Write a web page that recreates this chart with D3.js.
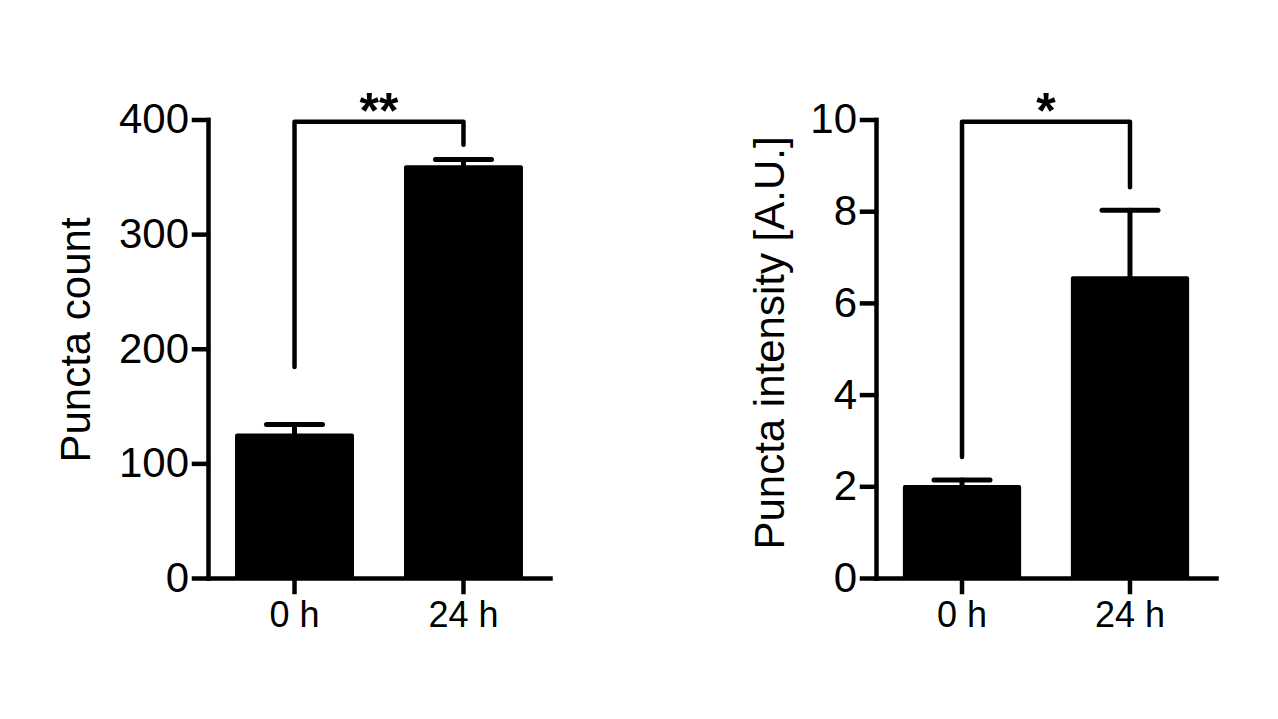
<!DOCTYPE html>
<html>
<head>
<meta charset="utf-8">
<script src="https://cdn.jsdelivr.net/npm/d3@7"></script>
<style>
  html, body { margin: 0; padding: 0; background: #fff; }
  svg { display: block; font-family: "Liberation Sans", Arial, sans-serif; }
</style>
</head>
<body>
<svg id="chart" width="1278" height="719"></svg>
<script>
// data
const categories = ['0 h', '24 h'];

const countMeans = [126, 360];
const countErrors = [8, 5];
const countTicks = [0, 100, 200, 300, 400];
const countLegs = [184, 378];     // bottom of bracket legs
const countBracketTop = 398;
const countStars = '**';

const intensityMeans = [2.03, 6.58];
const intensityErrors = [0.11, 1.44];
const intensityTicks = [0, 2, 4, 6, 8, 10];
const intensityLegs = [2.64, 8.52];
const intensityBracketTop = 9.95;
const intensityStars = '*';

const svg = d3.select('#chart');
const lw = 4.5;

const drawPanel = (opts) => {
  const { x0, x1, yTop, yBottom, means, errors, ticks, legs, bracketTop, stars, title, titleX, titleY } = opts;

  const x = d3.scaleBand()
    .domain(categories)
    .range([x0, x1])
    .paddingInner(0.296)
    .paddingOuter(0.16);

  const y = d3.scaleLinear()
    .domain([0, d3.max(ticks)])
    .range([yBottom, yTop]);

  const g = svg.append('g');

  // bars
  g.selectAll('.bar')
    .data(means)
    .enter().append('rect')
    .attr('class', 'bar')
    .attr('x', (d, i) => x(categories[i]))
    .attr('y', d => y(d))
    .attr('width', x.bandwidth())
    .attr('height', d => y(0) - y(d))
    .attr('rx', 2)
    .attr('fill', '#000');

  // error bars (upper only)
  const eb = g.selectAll('.err')
    .data(means)
    .enter().append('g')
    .attr('class', 'err')
    .attr('stroke', '#000')
    .attr('stroke-width', 5)
    .attr('stroke-linecap', 'round');

  eb.append('line')
    .attr('x1', (d, i) => x(categories[i]) + x.bandwidth() / 2)
    .attr('x2', (d, i) => x(categories[i]) + x.bandwidth() / 2)
    .attr('y1', d => y(d))
    .attr('y2', (d, i) => y(d + errors[i]));

  eb.append('line')
    .attr('x1', (d, i) => x(categories[i]) + x.bandwidth() / 2 - 28)
    .attr('x2', (d, i) => x(categories[i]) + x.bandwidth() / 2 + 28)
    .attr('y1', (d, i) => y(d + errors[i]))
    .attr('y2', (d, i) => y(d + errors[i]));

  // y axis
  const yAxis = d3.axisLeft(y)
    .tickValues(ticks)
    .tickSize(14)
    .tickSizeOuter(0)
    .tickPadding(5);

  const ya = g.append('g')
    .attr('transform', `translate(${x0},0)`)
    .call(yAxis);

  // x axis
  const xAxis = d3.axisBottom(x)
    .tickSize(14)
    .tickSizeOuter(0)
    .tickPadding(9);

  const xa = g.append('g')
    .attr('transform', `translate(0,${yBottom})`)
    .call(xAxis);

  [ya, xa].forEach(a => {
    a.selectAll('path, line')
      .attr('stroke', '#000')
      .attr('stroke-width', lw)
      .attr('stroke-linecap', 'square');
  });
  ya.selectAll('text')
    .attr('font-size', 42)
    .attr('fill', '#000')
    .attr('font-family', '"Liberation Sans", Arial, sans-serif');
  xa.selectAll('text')
    .attr('font-size', 36)
    .attr('fill', '#000')
    .attr('font-family', '"Liberation Sans", Arial, sans-serif');

  // axis title
  g.append('text')
    .attr('transform', `translate(${titleX},${titleY}) rotate(-90)`)
    .attr('text-anchor', 'middle')
    .attr('font-size', 42)
    .attr('fill', '#000')
    .text(title);

  // significance bracket
  const cx = categories.map(c => x(c) + x.bandwidth() / 2);
  g.append('path')
    .attr('d', `M${cx[0]},${y(legs[0])}V${y(bracketTop)}H${cx[1]}V${y(legs[1])}`)
    .attr('fill', 'none')
    .attr('stroke', '#000')
    .attr('stroke-width', lw)
    .attr('stroke-linecap', 'round')
    .attr('stroke-linejoin', 'round');

  g.append('text')
    .attr('x', (cx[0] + cx[1]) / 2)
    .attr('y', y(bracketTop) + 6)
    .attr('text-anchor', 'middle')
    .attr('font-size', 50)
    .attr('font-weight', 'bold')
    .attr('fill', '#000')
    .text(stars);
};

drawPanel({
  x0: 208, x1: 550, yTop: 119.5, yBottom: 578,
  means: countMeans, errors: countErrors, ticks: countTicks,
  legs: countLegs, bracketTop: countBracketTop, stars: countStars,
  title: 'Puncta count', titleX: 90, titleY: 340
});

drawPanel({
  x0: 876, x1: 1216, yTop: 119.5, yBottom: 578,
  means: intensityMeans, errors: intensityErrors, ticks: intensityTicks,
  legs: intensityLegs, bracketTop: intensityBracketTop, stars: intensityStars,
  title: 'Puncta intensity [A.U.]', titleX: 784, titleY: 343
});
</script>
</body>
</html>
